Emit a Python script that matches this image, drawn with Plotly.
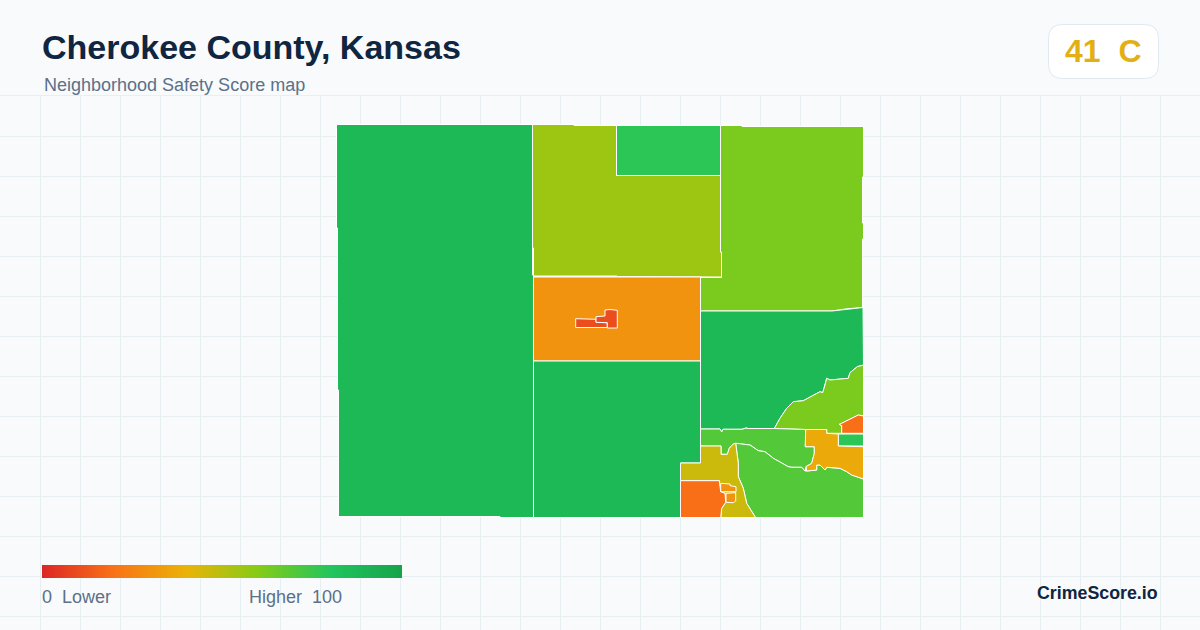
import plotly.graph_objects as go
from plotly.colors import sample_colorscale

# ---- Data -----------------------------------------------------------------
TITLE = "Cherokee County, Kansas"
SUBTITLE = "Neighborhood Safety Score map"
SCORE = 41
GRADE = "C"
BRAND = "CrimeScore.io"

SCALE_STOPS = [0, 20, 40, 60, 80, 100]
SCALE_COLORS = ["#dc2626", "#f97316", "#eab308", "#84cc16", "#22c55e", "#16a34a"]

west_x = [336.5, 532.5, 532.5, 533.5, 533.5, 500, 500, 338.5, 338.5, 337.5, 337.5, 336.5]
west_y = [124.5, 124.5, 275, 275, 517.5, 517.5, 516.5, 516.5, 390, 390, 228, 228]

north_x = [532.5, 574, 574, 616.5, 616.5, 720.5, 720.5, 721.5, 721.5, 682, 682, 617, 617, 533.5, 533.5, 532.5]
north_y = [124.5, 124.5, 125.5, 125.5, 175.5, 175.5, 252, 252, 277, 277, 276.5, 276.5, 276, 276, 248, 248]

north_cell_x = [616.5, 720.5, 720.5, 616.5]
north_cell_y = [125.5, 125.5, 175.5, 175.5]

northeast_x = [720.5, 742, 742, 863.5, 863.5, 862.5, 862.5, 863.5, 863.5, 862.5, 862.5, 845, 832, 700.5, 700.5, 721.5, 721.5, 720.5]
northeast_y = [125.5, 125.5, 126.5, 126.5, 177, 177, 223, 223, 239, 239, 307.5, 309, 311, 311, 277.5, 277.5, 252, 252]

center_x = [533.5, 700.5, 700.5, 533.5]
center_y = [277, 277, 361, 361]

town_a_x = [575.7, 596, 596, 607.3, 607.3, 575.7]
town_a_y = [318.7, 319.3, 322.3, 322.7, 327.5, 327.5]

town_b_x = [596, 605, 605, 610, 617.3, 617.3, 607.3, 607.3, 596]
town_b_y = [316.7, 316, 310, 309.5, 310.3, 328, 328, 322.7, 322.3]

south_x = [533.5, 700.5, 700.5, 680.5, 680.5, 533.5]
south_y = [361, 361, 463, 463, 517.5, 517.5]

east_x = [700.5, 832, 863, 863.5, 857.3, 850, 848.3, 830, 826.7, 825, 822.7, 820, 803.3, 793.3, 786.7, 780, 774.3,
          748, 746, 742, 723, 721.7, 720, 700.5]
east_y = [311, 311, 307.5, 365, 366.7, 372.7, 378.3, 380, 378.3, 385, 392.7, 391.7, 400.7, 401.7, 408.3, 418.3, 428.5,
          428.5, 428, 429.3, 429.3, 432, 429, 429]

ridge_x = [863.5, 857.3, 850, 848.3, 830, 826.7, 825, 822.7, 820, 803.3, 793.3, 786.7, 780, 774.3,
           805.7, 826.7, 826.7, 841.7, 841.7, 839.3, 841.7, 858.3, 863.5]
ridge_y = [365, 366.7, 372.7, 378.3, 380, 378.3, 385, 392.7, 391.7, 400.7, 401.7, 408.3, 418.3, 428.5,
           429.5, 429.5, 433.3, 433.3, 425.7, 424.3, 423.3, 415, 416]

east_spot_x = [839.3, 841.7, 858.3, 863.5, 863.5, 841.7, 841.7]
east_spot_y = [424.3, 423.3, 415, 416, 433.3, 433.3, 425.7]

east_cell_x = [838.3, 863.5, 863.5, 838.3]
east_cell_y = [434, 434, 446, 446]

amber_x = [805.7, 826.7, 826.7, 838.3, 838.3, 863.5, 863.5, 858.3, 851.7, 846.7, 840, 826.7, 825, 820, 816.7, 816.7, 806.7,
           806, 811.7, 814.3, 814.3, 805.3]
amber_y = [429.5, 429.5, 433.3, 434, 446, 446.7, 479, 477.3, 475, 471.7, 468.3, 467.3, 470, 465, 465, 470, 471,
           466.7, 463.3, 453.3, 446.7, 446.7]

band_x = [700.5, 720, 721.7, 723, 742, 746, 748, 774.3, 805.7, 805.3, 814.3, 814.3, 811.7, 806, 805, 801.7, 791.7, 788.3,
          773.3, 765, 758.3, 750, 735.7, 733.3, 729.3, 727.3, 721, 721, 700.5]
band_y = [429, 429, 432, 429.3, 429.3, 428, 428.5, 428.5, 429.5, 446.7, 446.7, 453.3, 463.3, 466.7, 471, 467.3, 467.3, 466.7,
          458.3, 451.7, 450.7, 445, 443.3, 444, 448.3, 454.3, 454.3, 446, 446]

southeast_x = [735.7, 750, 758.3, 765, 773.3, 788.3, 791.7, 801.7, 805, 806.7, 816.7, 816.7, 820, 825, 826.7, 840,
               846.7, 851.7, 858.3, 863.5, 863.5, 755.5, 746.7, 743.3, 738.3, 738.3]
southeast_y = [443.3, 445, 450.7, 451.7, 458.3, 466.7, 467.3, 467.3, 471, 471, 470, 465, 465, 470, 467.3, 468.3,
               471.7, 475, 477.3, 479, 517.5, 517.5, 503.3, 488.3, 476.7, 463.3]

olive_x = [680.5, 700.5, 700.5, 721, 721, 727.3, 729.3, 733.3, 735.7, 738.3, 738.3, 743.3, 746.7, 755.5, 720.7,
           721.7, 725.7, 725, 720.7, 719.3, 680.5]
olive_y = [463, 463, 446, 446, 454.3, 454.3, 448.3, 444, 443.3, 463.3, 476.7, 488.3, 503.3, 517.5, 517.5,
           508.3, 502.3, 493.3, 491.7, 480.7, 480.7]

galena_x = [680.5, 719.3, 720.7, 725, 725.7, 721.7, 720.7, 680.5]
galena_y = [480.7, 480.7, 491.7, 493.3, 502.3, 508.3, 517.5, 517.5]

block_a_x = [720.7, 730, 730, 736, 736, 720.7]
block_a_y = [483.3, 484, 485.7, 486.7, 491.7, 491.7]

block_b_x = [726, 735.7, 735.7, 733.3, 726]
block_b_y = [493.3, 492.7, 501, 502.7, 502.3]

region_polys = [
    (west_x, west_y), (north_x, north_y), (north_cell_x, north_cell_y), (northeast_x, northeast_y),
    (center_x, center_y), (town_a_x, town_a_y), (town_b_x, town_b_y), (south_x, south_y), (east_x, east_y),
    (ridge_x, ridge_y), (east_spot_x, east_spot_y), (east_cell_x, east_cell_y), (band_x, band_y),
    (southeast_x, southeast_y), (amber_x, amber_y), (olive_x, olive_y), (galena_x, galena_y),
    (block_a_x, block_a_y), (block_b_x, block_b_y),
]
region_scores = [87, 55, 78, 62, 30, 10, 10, 87, 87, 62, 19, 78, 70, 70, 37, 46, 19, 30, 30]

# ---- Style ----------------------------------------------------------------
colorscale = [[s / 100, c] for s, c in zip(SCALE_STOPS, SCALE_COLORS)]
INK = "#0f2540"
MUTED = "#5b7089"
GRID = "#e8eff3"
BG = "#f8fafc"
NB = "\u00a0"

fig = go.Figure()

for (xs, ys), score in zip(region_polys, region_scores):
    fill = sample_colorscale(colorscale, [score / 100], colortype="rgb")[0]
    fig.add_trace(go.Scatter(
        x=xs + xs[:1], y=ys + ys[:1], mode="lines", fill="toself", fillcolor=fill,
        line=dict(color="#ffffff", width=1), hovertemplate=f"Score {score}<extra></extra>",
        showlegend=False,
    ))

fig.add_trace(go.Heatmap(
    x=SCALE_STOPS, y=[0, 1], z=[SCALE_STOPS, SCALE_STOPS], xaxis="x2", yaxis="y2",
    colorscale=colorscale, zmin=0, zmax=100, zsmooth="best", showscale=False, hoverinfo="skip",
))

def label(x, y, text, size, color, bold=False, anchor="left"):
    fig.add_annotation(
        x=x / 1200, y=1 - y / 630, xref="paper", yref="paper", text=f"<b>{text}</b>" if bold else text,
        showarrow=False, xanchor=anchor, yanchor="middle", align=anchor, borderpad=0, borderwidth=0,
        font=dict(family="Liberation Sans, Arial, sans-serif", size=size, color=color),
    )

label(42, 47, TITLE, 34, INK, bold=True)
label(44, 85, SUBTITLE, 18, MUTED)
label(1102.5, 51, f"{SCORE}{NB}{NB}{GRADE}", 32, "#e3b014", bold=True, anchor="center")
label(42, 597, f"0{NB}{NB}Lower", 18, MUTED)
label(249, 597, f"Higher{NB}{NB}100", 18, MUTED)
label(1158, 593, BRAND, 17.8, INK, bold=True, anchor="right")

# Score badge: rounded rectangle in paper space
bx0, bx1, by0, by1, r = 1048.5 / 1200, 1158.5 / 1200, 1 - 78.5 / 630, 1 - 24.5 / 630, 14
rx, ry = r / 1200, r / 630
fig.add_shape(
    type="path", xref="paper", yref="paper", fillcolor="#ffffff",
    line=dict(color="#e2e8f0", width=1), layer="below",
    path=(f"M {bx0 + rx} {by1} L {bx1 - rx} {by1} Q {bx1} {by1} {bx1} {by1 - ry} "
          f"L {bx1} {by0 + ry} Q {bx1} {by0} {bx1 - rx} {by0} L {bx0 + rx} {by0} "
          f"Q {bx0} {by0} {bx0} {by0 + ry} L {bx0} {by1 - ry} Q {bx0} {by1} {bx0 + rx} {by1} Z"),
)

fig.update_layout(
    width=1200, height=630, margin=dict(l=0, r=0, t=0, b=0),
    paper_bgcolor=BG, plot_bgcolor=BG, showlegend=False,
    xaxis=dict(range=[0, 1200], domain=[0, 1], tick0=0, dtick=40, showgrid=True, gridcolor=GRID, gridwidth=1,
               zeroline=False, showticklabels=False, ticks="", fixedrange=True,
               side="top", showline=True, linecolor=GRID, linewidth=1),
    yaxis=dict(range=[630, 96], domain=[0, 534 / 630], tick0=96, dtick=40, showgrid=True, gridcolor=GRID, gridwidth=1,
               zeroline=False, showticklabels=False, ticks="", fixedrange=True),
    xaxis2=dict(range=[0, 100], domain=[42 / 1200, 402 / 1200], visible=False, anchor="y2", fixedrange=True),
    yaxis2=dict(range=[0, 1], domain=[1 - 578 / 630, 1 - 565 / 630], visible=False, anchor="x2", fixedrange=True),
)

fig.write_html(
    "out.html", config={"displayModeBar": False},
    post_script="document.body.style.margin='0';document.body.style.background='#f8fafc';",
)
